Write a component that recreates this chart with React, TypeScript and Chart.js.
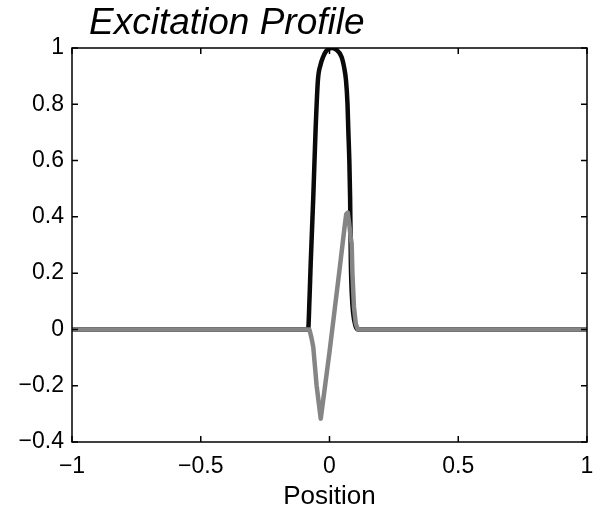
import React, { useEffect, useRef } from "react";
import { Chart, registerables } from "chart.js";

Chart.register(...registerables);

const titleText = "Excitation Profile";
const xAxisLabel = "Position";

const xTicks = [-1, -0.5, 0, 0.5, 1];
const yTicks = [-0.4, -0.2, 0, 0.2, 0.4, 0.6, 0.8, 1];

const xBlack = [-1, -0.083, -0.078, -0.073, -0.063, -0.054, -0.045, -0.035, -0.025, -0.012, 0.008, 0.025, 0.047, 0.057, 0.064, 0.07, 0.073, 0.077, 0.08, 0.083, 0.087, 0.092, 0.1, 0.11, 1];
const yBlack = [0, 0, 0.1, 0.235, 0.47, 0.71, 0.886, 0.94, 0.968, 0.99, 1, 0.995, 0.968, 0.93, 0.886, 0.8, 0.71, 0.6, 0.47, 0.235, 0.12, 0.057, 0.015, 0, 0];

const xGray = [-1, -0.078, -0.07, -0.063, -0.05, -0.034, -0.02, 0, 0.02, 0.04, 0.058, 0.065, 0.071, 0.076, 0.082, 0.086, 0.089, 0.095, 0.102, 0.11, 1];
const yGray = [0, 0, -0.03, -0.063, -0.2, -0.317, -0.22, -0.08, 0.07, 0.22, 0.36, 0.41, 0.415, 0.38, 0.33, 0.306, 0.2, 0.08, 0.02, 0, 0];

const FONT = '"Liberation Sans", Arial, Helvetica, sans-serif';

const fmt = (v: number) => {
  const r = Math.round(v * 10) / 10;
  return String(r).replace("-", "\u2212");
};

const framePlugin = {
  id: "frame",
  afterDatasetsDraw(chart: any) {
    const { ctx, chartArea } = chart;
    const { left, right, top, bottom } = chartArea;
    const xs = chart.scales.x;
    const ys = chart.scales.y;
    ctx.save();
    ctx.strokeStyle = "#000";
    ctx.lineWidth = 1.5;
    ctx.strokeRect(left, top, right - left, bottom - top);
    const tl = 6;
    ctx.beginPath();
    xTicks.forEach((t) => {
      const px = xs.getPixelForValue(t);
      ctx.moveTo(px, bottom);
      ctx.lineTo(px, bottom - tl);
      ctx.moveTo(px, top);
      ctx.lineTo(px, top + tl);
    });
    yTicks.forEach((t) => {
      const py = ys.getPixelForValue(t);
      ctx.moveTo(left, py);
      ctx.lineTo(left + tl, py);
      ctx.moveTo(right, py);
      ctx.lineTo(right - tl, py);
    });
    ctx.stroke();
    ctx.restore();
  },
  afterDraw(chart: any) {
    const { ctx } = chart;
    ctx.save();
    ctx.fillStyle = "#000";
    ctx.font = `italic 37px ${FONT}`;
    ctx.textBaseline = "alphabetic";
    ctx.textAlign = "left";
    ctx.fillText(titleText, 89, 34);
    ctx.restore();
  },
};

export default function App() {
  const ref = useRef<HTMLCanvasElement | null>(null);
  useEffect(() => {
    if (!ref.current) return;
    const chart = new Chart(ref.current, {
      type: "line",
      data: {
        datasets: [
          {
            label: "gray",
            data: xGray.map((x, i) => ({ x, y: yGray[i] })),
            borderColor: "#858585",
            borderWidth: 4.5,
            borderJoinStyle: "round",
            borderCapStyle: "round",
            pointRadius: 0,
            tension: 0,
            fill: false,
          },
          {
            label: "black",
            data: xBlack.map((x, i) => ({ x, y: yBlack[i] })),
            borderColor: "#0a0a0a",
            borderWidth: 4.5,
            borderJoinStyle: "round",
            pointRadius: 0,
            cubicInterpolationMode: "monotone",
            fill: false,
          },
        ],
      },
      options: {
        animation: false,
        responsive: false,
        devicePixelRatio: 1,
        layout: { padding: { top: 48, right: 12, left: 0, bottom: 0 } },
        plugins: {
          legend: { display: false },
          tooltip: { enabled: false },
          title: { display: false },
        },
        scales: {
          x: {
            type: "linear",
            min: -1,
            max: 1,
            afterBuildTicks: (s: any) => {
              s.ticks = xTicks.map((v) => ({ value: v }));
            },
            afterFit: (s: any) => {
              s.height = 70;
              s.paddingLeft = 0;
              s.paddingRight = 0;
            },
            grid: { display: false, drawTicks: false },
            border: { display: false },
            ticks: {
              padding: 11,
              maxRotation: 0,
              autoSkip: false,
              color: "#000",
              font: { family: FONT, size: 23 },
              callback: (v: any) => fmt(Number(v)),
            },
            title: {
              display: true,
              text: xAxisLabel,
              color: "#000",
              font: { family: FONT, size: 26 },
              padding: { top: 0, bottom: 0 },
            },
          },
          y: {
            type: "linear",
            min: -0.4,
            max: 1,
            afterBuildTicks: (s: any) => {
              s.ticks = yTicks.map((v) => ({ value: v }));
            },
            afterFit: (s: any) => {
              s.width = 72;
              s.paddingTop = 0;
              s.paddingBottom = 0;
            },
            grid: { display: false, drawTicks: false },
            border: { display: false },
            ticks: {
              padding: 8,
              autoSkip: false,
              color: "#000",
              font: { family: FONT, size: 23 },
              callback: (v: any) => fmt(Number(v)),
            },
          },
        },
      },
      plugins: [framePlugin],
    });
    return () => chart.destroy();
  }, []);
  return (
    <div style={{ position: "fixed", left: 0, top: 0, width: 599, height: 512, background: "#fff" }}>
      <canvas ref={ref} width={599} height={512} />
    </div>
  );
}
